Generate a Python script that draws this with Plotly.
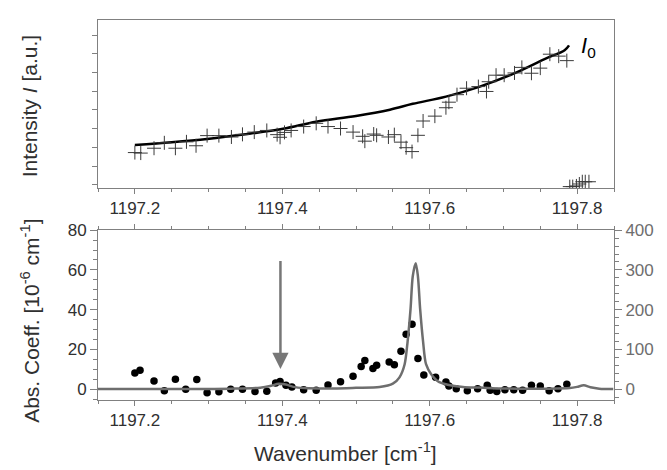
import plotly.graph_objects as go

# ---- upper panel: measured intensity (crosses) and fitted baseline I0 ----
int_x = [1197.200, 1197.208, 1197.226, 1197.240, 1197.255, 1197.270, 1197.283,
         1197.298, 1197.314, 1197.331, 1197.346, 1197.362, 1197.379, 1197.393,
         1197.397, 1197.403, 1197.412, 1197.429, 1197.446, 1197.462, 1197.479,
         1197.496, 1197.509, 1197.512, 1197.524, 1197.528, 1197.544, 1197.552,
         1197.561, 1197.568, 1197.576, 1197.584, 1197.591, 1197.607, 1197.622,
         1197.626, 1197.637, 1197.650, 1197.666, 1197.677, 1197.680, 1197.690,
         1197.701, 1197.715, 1197.725, 1197.738, 1197.750, 1197.763, 1197.775,
         1197.786,
         1197.790, 1197.794, 1197.799, 1197.803, 1197.807, 1197.811, 1197.816]
int_y = [0.432, 0.425, 0.490, 0.562, 0.490, 0.575, 0.523,
         0.658, 0.658, 0.640, 0.675, 0.705, 0.727, 0.671,
         0.636, 0.701, 0.727, 0.779, 0.822, 0.779, 0.753,
         0.705, 0.649, 0.584, 0.679, 0.662, 0.640, 0.671,
         0.571, 0.497, 0.445, 0.662, 0.853, 0.918, 1.030,
         1.104, 1.204, 1.290, 1.312, 1.247, 1.377, 1.464,
         1.464, 1.494, 1.568, 1.490, 1.558, 1.744, 1.718,
         1.658,
         -0.022, -0.022, -0.013, 0.013, 0.043, 0.043, 0.043]

i0_x = [1197.200, 1197.250, 1197.298, 1197.350, 1197.401, 1197.446, 1197.500,
        1197.546, 1197.577, 1197.622, 1197.668, 1197.713, 1197.758, 1197.783,
        1197.789]
i0_y = [0.532, 0.570, 0.614, 0.676, 0.749, 0.844, 0.920,
        1.004, 1.082, 1.178, 1.312, 1.481, 1.688, 1.796,
        1.861]

# ---- lower panel: absorption coefficient (dots) and simulated spectrum ----
abs_x = [1197.200, 1197.207, 1197.226, 1197.240, 1197.255, 1197.269, 1197.284,
         1197.298, 1197.314, 1197.330, 1197.346, 1197.363, 1197.379, 1197.391,
         1197.397, 1197.405, 1197.413, 1197.429, 1197.446, 1197.462, 1197.479,
         1197.496, 1197.507, 1197.512, 1197.523, 1197.528, 1197.545, 1197.552,
         1197.561, 1197.568, 1197.576, 1197.584, 1197.592, 1197.608, 1197.622,
         1197.626, 1197.636, 1197.651, 1197.665, 1197.678, 1197.682, 1197.691,
         1197.702, 1197.714, 1197.726, 1197.738, 1197.750, 1197.762, 1197.774,
         1197.786]
abs_y = [8.2, 9.6, 4.1, -0.8, 5.0, 0.0, 4.9,
         -1.8, -1.3, 0.0, 0.0, -1.1, -1.0, 3.1,
         3.9, 2.0, 1.1, -0.2, -0.5, 2.1, 3.8,
         6.5, 11.4, 14.5, 10.5, 12.1, 13.7, 12.3,
         19.1, 27.6, 32.7, 15.5, 7.2, 6.0, 3.6,
         1.6, 0.2, -0.8, 0.2, 2.0, -0.5, -1.1,
         -0.3, -0.2, -0.5, 2.0, 1.6, -0.8, 0.3,
         2.5]

sim_x = [1197.150, 1197.250, 1197.330, 1197.370, 1197.385, 1197.395, 1197.405,
         1197.415, 1197.430, 1197.470, 1197.500, 1197.532, 1197.550, 1197.559,
         1197.566, 1197.570, 1197.574, 1197.577, 1197.581, 1197.584, 1197.587,
         1197.591, 1197.595, 1197.602, 1197.613, 1197.645, 1197.668, 1197.700,
         1197.760, 1197.790, 1197.800, 1197.809, 1197.818, 1197.830, 1197.849]
sim_y = [0.5, 0.8, 1.5, 4, 9, 14, 12,
         6, 3, 2, 3.5, 5.6, 14, 30,
         63, 120, 202, 284, 317, 284, 202,
         120, 63, 38, 18, 5.6, 4.2, 2,
         1.5, 3, 6, 10, 5, 1.5, 0.5]

# arrow marking the weak line near 1197.4 cm-1
arrow_x = 1197.3975
arrow_top = 65.3
arrow_tip = 10.2

FONT = "Liberation Sans, Arial, sans-serif"
AXC = "#808080"
TXT = "#303030"
GRAY = "#6e6e6e"

fig = go.Figure()
fig.add_trace(go.Scatter(x=i0_x, y=i0_y, mode="lines",
                         line=dict(color="black", width=2.5, shape="spline"),
                         xaxis="x", yaxis="y", showlegend=False))
fig.add_trace(go.Scatter(x=int_x, y=int_y, mode="markers",
                         marker=dict(symbol="cross-thin", size=10,
                                     line=dict(color="#3a3a3a", width=1)),
                         xaxis="x", yaxis="y", showlegend=False))
fig.add_trace(go.Scatter(x=sim_x, y=sim_y, mode="lines",
                         line=dict(color=GRAY, width=2.5, shape="spline", smoothing=0.8),
                         xaxis="x2", yaxis="y3", showlegend=False))
fig.add_trace(go.Scatter(x=abs_x, y=abs_y, mode="markers",
                         marker=dict(symbol="circle", size=7.5, color="black"),
                         xaxis="x2", yaxis="y2", showlegend=False))

xr = [1197.15, 1197.85]
common_x = dict(range=xr, tick0=1197.2, dtick=0.2, tickformat=".1f",
                ticks="outside", ticklen=5,
                tickcolor=AXC, showline=True, linecolor=AXC, linewidth=1,
                showgrid=False, zeroline=False,
                tickfont=dict(family=FONT, size=17, color=TXT),
                minor=dict(dtick=0.05, tick0=1197.2, ticks="outside", ticklen=3,
                           tickcolor=AXC, showgrid=False))

fig.update_layout(
    width=667, height=470,
    margin=dict(l=98, r=53, t=11, b=70),
    paper_bgcolor="white", plot_bgcolor="white",
    separators=".,",
    xaxis=dict(domain=[0, 1], anchor="y", mirror=True, **common_x),
    yaxis=dict(domain=[0.558, 1], anchor="x", range=[-0.04, 2.2],
               tick0=0, dtick=0.25, ticks="outside", ticklen=5, tickcolor=AXC,
               showticklabels=False, showline=True, linecolor=AXC, mirror=True,
               showgrid=False, zeroline=False),
    xaxis2=dict(domain=[0, 1], anchor="y2", mirror="ticks", **common_x),
    yaxis2=dict(domain=[0, 0.447], anchor="x2", range=[-5.4, 80],
                tick0=0, dtick=20, ticks="outside", ticklen=7, tickcolor=AXC,
                showline=True, linecolor=AXC, showgrid=False, zeroline=False,
                tickfont=dict(family=FONT, size=17, color=TXT),
                minor=dict(dtick=5, ticks="outside", ticklen=4, tickcolor=AXC,
                           showgrid=False)),
    yaxis3=dict(overlaying="y2", anchor="x2", side="right", range=[-27, 400],
                tick0=0, dtick=100, ticks="outside", ticklen=7, tickcolor=AXC,
                showline=True, linecolor=AXC, showgrid=False, zeroline=False,
                tickfont=dict(family=FONT, size=17, color=GRAY),
                minor=dict(dtick=20, ticks="outside", ticklen=4, tickcolor=AXC,
                           showgrid=False)),
)

fig.add_annotation(x=-0.132, y=0.7725, xref="paper", yref="paper",
                   text="Intensity <i>I</i> [a.u.]", textangle=-90, showarrow=False,
                   font=dict(family=FONT, size=21, color=TXT),
                   xanchor="center", yanchor="middle")
fig.add_annotation(x=-0.132, y=0.208, xref="paper", yref="paper",
                   text="Abs. Coeff. [10<sup>-6</sup> cm<sup>-1</sup>]", textangle=-90,
                   showarrow=False, font=dict(family=FONT, size=21, color=TXT),
                   xanchor="center", yanchor="middle")
fig.add_annotation(x=0.4806, y=-0.136, xref="paper", yref="paper",
                   text="Wavenumber [cm<sup>-1</sup>]", showarrow=False,
                   font=dict(family=FONT, size=21, color=TXT),
                   xanchor="center", yanchor="middle")
fig.add_annotation(x=1197.803, y=1.84, xref="x", yref="y",
                   text="<i>I</i><sub>0</sub>", showarrow=False,
                   font=dict(family=FONT, size=22, color="black"),
                   xanchor="left", yanchor="middle")
fig.add_annotation(x=arrow_x, y=arrow_tip, xref="x2", yref="y2",
                   ax=arrow_x, ay=arrow_top, axref="x2", ayref="y2",
                   text="", showarrow=True, arrowhead=2, arrowsize=1.3,
                   arrowwidth=2.5, arrowcolor="#777777")

fig.write_html("out.html")
